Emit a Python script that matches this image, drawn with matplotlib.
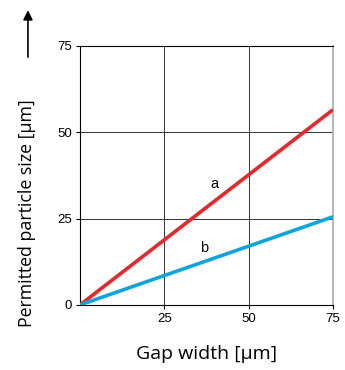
import matplotlib
matplotlib.use("Agg")
import matplotlib.pyplot as plt

plt.rcParams['font.family'] = ['Liberation Sans', 'DejaVu Sans']

gap = [0, 75]
size_a = [0, 56.5]
size_b = [0, 25.5]
xticks = [25, 50, 75]
yticks = [0, 25, 50, 75]

fig = plt.figure(figsize=(3.45, 3.7), dpi=100)
ax = fig.add_axes([0.232, 0.176, 0.733, 0.7])

ax.plot(gap, size_a, color='#e8262b', lw=2.6, solid_capstyle='butt', zorder=3)
ax.plot(gap, size_b, color='#0ea5dc', lw=2.6, solid_capstyle='butt', zorder=3)
ax.text(40, 35, 'a', fontsize=10.5, ha='center', va='center')
ax.text(36.8, 16.5, 'b', fontsize=10.5, ha='center', va='center')

ax.set_xlim(0, 75)
ax.set_ylim(0, 75)
ax.set_xticks(xticks)
ax.set_yticks(yticks)
ax.tick_params(labelsize=9.5, length=3, width=0.8, pad=3)
ax.grid(True, color='#333333', lw=0.7)
for s in ['left', 'bottom', 'top']:
    ax.spines[s].set_linewidth(0.8)
ax.spines['right'].set_color('#aaaaaa')
ax.spines['right'].set_linewidth(1.2)

lab = dict(family=['Open Sans', 'DejaVu Sans'])
ax.set_xlabel('Gap width [µm]', fontsize=14, labelpad=14, **lab)
ax.set_ylabel('Permitted particle size [µm]', fontsize=12.8, **lab)
ax.yaxis.set_label_coords(-0.175, 0.355)

ax.annotate('', xy=(0.081, 0.98), xytext=(0.081, 0.838), xycoords='figure fraction',
            arrowprops=dict(arrowstyle='-|>', color='black', lw=1.2, mutation_scale=14))

fig.savefig('out.png', dpi=100)
